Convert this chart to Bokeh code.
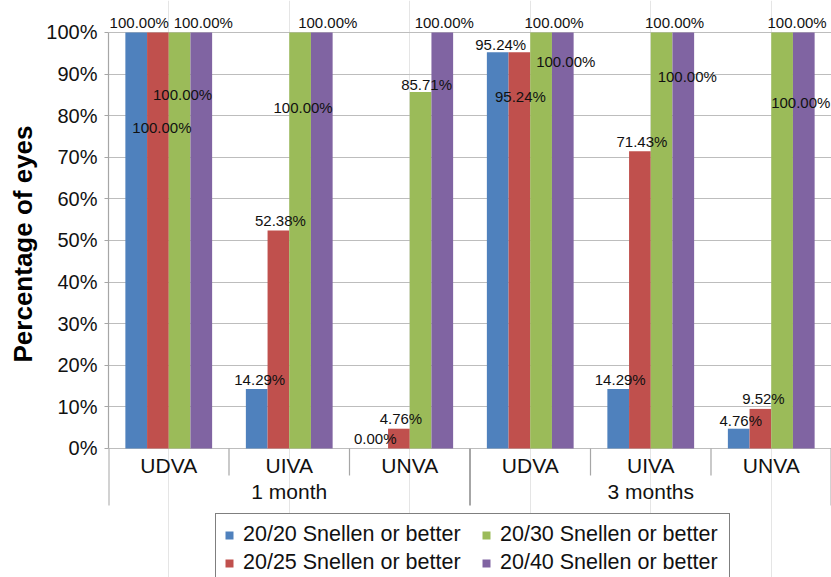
from math import pi

from bokeh.plotting import figure
from bokeh.models import (FactorRange, Range1d, ColumnDataSource, FixedTicker,
                          PrintfTickFormatter, Legend, LegendItem, Title)
from bokeh.transform import dodge
from bokeh.core.properties import value
from bokeh.embed import file_html
from bokeh.resources import INLINE

# ---------------- data ----------------
groups = ["1 month", "3 months"]
measures = ["UDVA", "UIVA", "UNVA"]
series_names = ["20/20 Snellen or better", "20/25 Snellen or better",
                "20/30 Snellen or better", "20/40 Snellen or better"]
snellen_20_20 = [100.00, 14.29, 0.00, 95.24, 14.29, 4.76]
snellen_20_25 = [100.00, 52.38, 4.76, 95.24, 71.43, 9.52]
snellen_20_30 = [100.00, 100.00, 85.71, 100.00, 100.00, 100.00]
snellen_20_40 = [100.00, 100.00, 100.00, 100.00, 100.00, 100.00]
y_ticks = [0, 10, 20, 30, 40, 50, 60, 70, 80, 90, 100]
y_title = "Percentage of eyes"

# ---------------- styling ----------------
colors = ["#4F81BD", "#C0504D", "#9BBB59", "#8064A2"]
bar_offsets = [-0.27, -0.09, 0.09, 0.27]
bar_width = 0.18
# label shifts in screen pixels (reproducing the label placement of the original)
label_dx = [[3, 3, -2, 3, 2, 2],
            [4, 2, 2, 1, 2, 3],
            [3, 3, 6, 13, 13, 15],
            [2, 6, 2, 3, 4, -3]]
label_dy = [[0, 0, 0, 2, 0, 2],
            [105, 0, 0, 54, 0, 0],
            [72, 85, 3, 0, 0, 0],
            [0, 0, 0, 39, 54, 80]]
FONT = "Liberation Sans"
Y_START, Y_END = -31.01, 107.69
grid_color = "#bdbdbd"
axis_color = "#a6a6a6"

factors = [(g, m) for g in groups for m in measures]
series = [snellen_20_20, snellen_20_25, snellen_20_30, snellen_20_40]

p = figure(x_range=FactorRange(factors=factors, factor_padding=0, group_padding=0,
                               subgroup_padding=0, range_padding=0),
           y_range=Range1d(Y_START, Y_END),
           width=831, height=577,
           x_axis_location=None, toolbar_location=None, output_backend="svg",
           min_border_left=108, min_border_right=0, min_border_top=0, min_border_bottom=0,
           background_fill_color="white", border_fill_color="white",
           outline_line_color=None)

p.ygrid.ticker = FixedTicker(ticks=y_ticks)
p.ygrid.grid_line_color = grid_color
p.ygrid.grid_line_width = 1.2

sources = []
renderers = []
for i, vals in enumerate(series):
    src = ColumnDataSource(dict(
        x=factors, top=vals,
        label=[f"{v:.2f}%" for v in vals],
        dx=label_dx[i],
        dy=[d - 10 for d in label_dy[i]],
    ))
    sources.append(src)
    r = p.vbar(x=dodge("x", bar_offsets[i], range=p.x_range), top="top", bottom=0,
               width=bar_width, source=src, fill_color=colors[i], line_color=None)
    renderers.append(r)

for i, src in enumerate(sources):
    p.text(x=dodge("x", bar_offsets[i], range=p.x_range), y="top", text="label",
           x_offset="dx", y_offset="dy", source=src,
           text_font=value(FONT), text_font_size="15px", text_color="#111111",
           text_align="center", text_baseline="middle")

# category axis drawn inside the frame
cat_src = ColumnDataSource(dict(x=factors, y=[0] * len(factors), text=[m for _, m in factors]))
p.text(x="x", y="y", text="text", source=cat_src, y_offset=17,
       text_font=value(FONT), text_font_size="21px", text_color="#111111",
       text_align="center", text_baseline="middle")
grp_src = ColumnDataSource(dict(x=[(g, measures[1]) for g in groups], y=[0] * len(groups), text=groups))
p.text(x="x", y="y", text="text", source=grp_src, y_offset=43,
       text_font=value(FONT), text_font_size="21px", text_color="#111111",
       text_align="center", text_baseline="middle")

short_sep = [f for f in factors if f[1] != measures[0]]
long_sep = [f for f in factors if f[1] == measures[0]]
p.ray(x=dodge("x", -0.5, range=p.x_range), y="y",
      source=ColumnDataSource(dict(x=short_sep, y=[0] * len(short_sep))),
      length=27, length_units="screen", angle=-pi / 2,
      line_color=axis_color, line_width=1.2)
p.ray(x=dodge("x", -0.5, range=p.x_range), y="y",
      source=ColumnDataSource(dict(x=long_sep, y=[0] * len(long_sep))),
      length=57, length_units="screen", angle=-pi / 2,
      line_color=axis_color, line_width=2)
p.ray(x=dodge("x", 0.5, range=p.x_range), y="y",
      source=ColumnDataSource(dict(x=[factors[-1]], y=[0])),
      length=57, length_units="screen", angle=-pi / 2,
      line_color=axis_color, line_width=2)

# y axis
ya = p.yaxis[0]
ya.ticker = FixedTicker(ticks=y_ticks)
ya.formatter = PrintfTickFormatter(format="%d%%")
ya.bounds = (0, 100)
ya.axis_line_color = axis_color
ya.axis_line_width = 1.2
ya.major_tick_line_color = axis_color
ya.major_tick_out = 4
ya.major_tick_in = 0
ya.minor_tick_line_color = None
ya.major_label_standoff = 7
ya.major_label_text_font = FONT
ya.major_label_text_font_size = "20px"
ya.major_label_text_color = "#111111"

p.add_layout(Title(text=y_title, align="left", offset=215, standoff=11,
                   text_font=FONT, text_font_size="26px", text_font_style="bold",
                   text_color="#000000"), "left")

# legend: one bordered box holding the first column, a transparent one for the second
common = dict(orientation="vertical",
              label_text_font=FONT, label_text_font_size="21.5px", label_text_color="#111111",
              glyph_width=10, glyph_height=10, label_height=18, label_standoff=9,
              spacing=3, padding=8, margin=0)
legend_a = Legend(items=[LegendItem(label=series_names[k], renderers=[renderers[k]]) for k in (0, 1)],
                  location=(107, -7), label_width=478,
                  border_line_color="black", border_line_width=1,
                  background_fill_color="white", background_fill_alpha=1, **common)
legend_b = Legend(items=[LegendItem(label=series_names[k], renderers=[renderers[k]]) for k in (2, 3)],
                  location=(373, 2), border_line_color=None,
                  background_fill_alpha=0, **common)
p.add_layout(legend_a, "center")
p.add_layout(legend_b, "center")

open("out.html", "w").write(file_html(p, INLINE))
